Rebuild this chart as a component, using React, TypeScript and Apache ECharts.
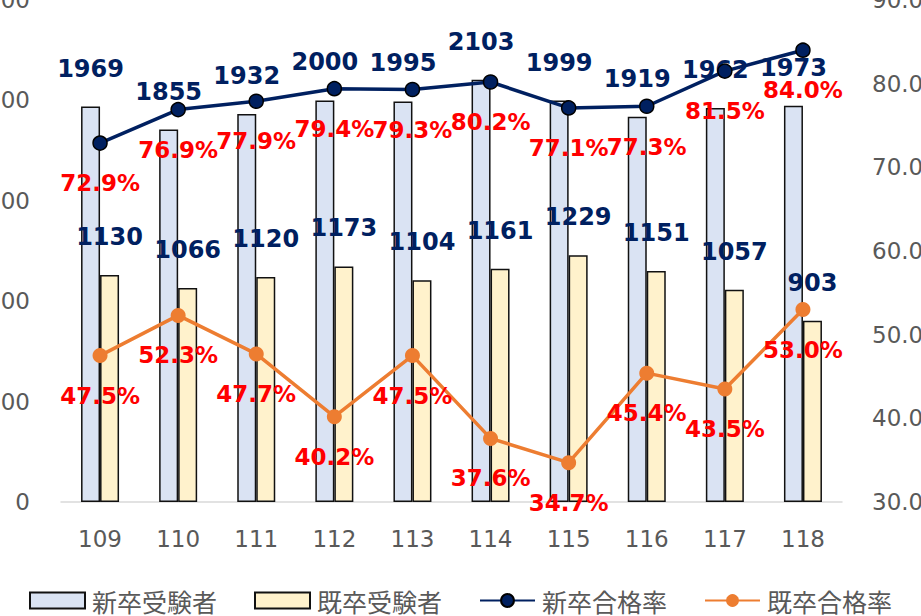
import React, { useEffect, useRef } from "react";
import * as echarts from "echarts";

const categories = ["109", "110", "111", "112", "113", "114", "115", "116", "117", "118"];
const newExaminees = [1969, 1855, 1932, 2000, 1995, 2103, 1999, 1919, 1962, 1973];
const pastExaminees = [1130, 1066, 1120, 1173, 1104, 1161, 1229, 1151, 1057, 903];
const newPassRate = [72.9, 76.9, 77.9, 79.4, 79.3, 80.2, 77.1, 77.3, 81.5, 84.0];
const pastPassRate = [47.5, 52.3, 47.7, 40.2, 47.5, 37.6, 34.7, 45.4, 43.5, 53.0];

const seriesNames = ["新卒受験者", "既卒受験者", "新卒合格率", "既卒合格率"];

const FONT = "'DejaVu Sans', Verdana, sans-serif";
const CJK = "'Noto Sans CJK JP', sans-serif";

export default function App() {
  const ref = useRef<HTMLDivElement>(null);
  useEffect(() => {
    document.body.style.margin = "0";
    const chart = echarts.init(ref.current!, null, { renderer: "svg" });
    const countLabel = {
      show: true,
      position: "top",
      distance: 26,
      color: "#002060",
      fontFamily: FONT,
      fontWeight: "bold",
      fontSize: 24,
    };
    const rateLabel = {
      show: true,
      position: "bottom",
      distance: 21,
      color: "#FF0000",
      fontFamily: FONT,
      fontWeight: "bold",
      fontSize: 23,
      formatter: (p: any) => Number(p.value).toFixed(1) + "%",
    };
    chart.setOption({
      animation: false,
      grid: { left: 61, right: 79, top: 0, bottom: 114, containLabel: false, outerBoundsMode: "none" },
      legend: {
        data: [
          { name: seriesNames[0], icon: "rect" },
          { name: seriesNames[1], icon: "rect" },
          { name: seriesNames[2] },
          { name: seriesNames[3] },
        ],
        left: "center",
        top: 588,
        padding: 0,
        itemWidth: 55,
        itemHeight: 16,
        itemGap: 37,
        textStyle: { fontFamily: CJK, fontSize: 25, color: "#595959", padding: [0, 0, 0, 2] },
      },
      xAxis: {
        type: "category",
        data: categories,
        axisLine: { lineStyle: { color: "#D9D9D9", width: 1.5 } },
        axisTick: { show: false },
        axisLabel: { color: "#595959", fontFamily: FONT, fontSize: 23, margin: 25 },
      },
      yAxis: [
        {
          type: "value",
          min: 0,
          max: 2500,
          interval: 500,
          splitLine: { show: false },
          axisLine: { show: false },
          axisTick: { show: false },
          axisLabel: { color: "#595959", fontFamily: FONT, fontSize: 23, margin: 31 },
        },
        {
          type: "value",
          min: 30,
          max: 90,
          interval: 10,
          position: "right",
          splitLine: { show: false },
          axisLine: { show: false },
          axisTick: { show: false },
          axisLabel: {
            color: "#595959",
            fontFamily: FONT,
            fontSize: 23,
            margin: 30,
            formatter: (v: number) => v.toFixed(1),
          },
        },
      ],
      series: [
        {
          name: seriesNames[0],
          type: "bar",
          data: newExaminees,
          barWidth: 19,
          barGap: "0%",
          itemStyle: { color: "#DAE3F3", borderColor: "#111", borderWidth: 1.5 },
          label: countLabel,
          z: 2,
        },
        {
          name: seriesNames[1],
          type: "bar",
          data: pastExaminees,
          barWidth: 19,
          barGap: "0%",
          itemStyle: { color: "#FFF2CC", borderColor: "#111", borderWidth: 1.5 },
          label: countLabel,
          z: 2,
        },
        {
          name: seriesNames[2],
          type: "line",
          yAxisIndex: 1,
          data: newPassRate,
          symbol: "circle",
          symbolSize: 14,
          lineStyle: { color: "#002060", width: 3.5 },
          itemStyle: { color: "#002060", borderColor: "#000", borderWidth: 1.5 },
          label: rateLabel,
          z: 3,
        },
        {
          name: seriesNames[3],
          type: "line",
          yAxisIndex: 1,
          data: pastPassRate,
          symbol: "circle",
          symbolSize: 15,
          lineStyle: { color: "#ED7D31", width: 3.5 },
          itemStyle: { color: "#ED7D31", borderColor: "#ED7D31", borderWidth: 0 },
          label: rateLabel,
          z: 3,
        },
      ],
    });
    return () => chart.dispose();
  }, []);
  return <div ref={ref} style={{ width: 921, height: 616 }} />;
}
